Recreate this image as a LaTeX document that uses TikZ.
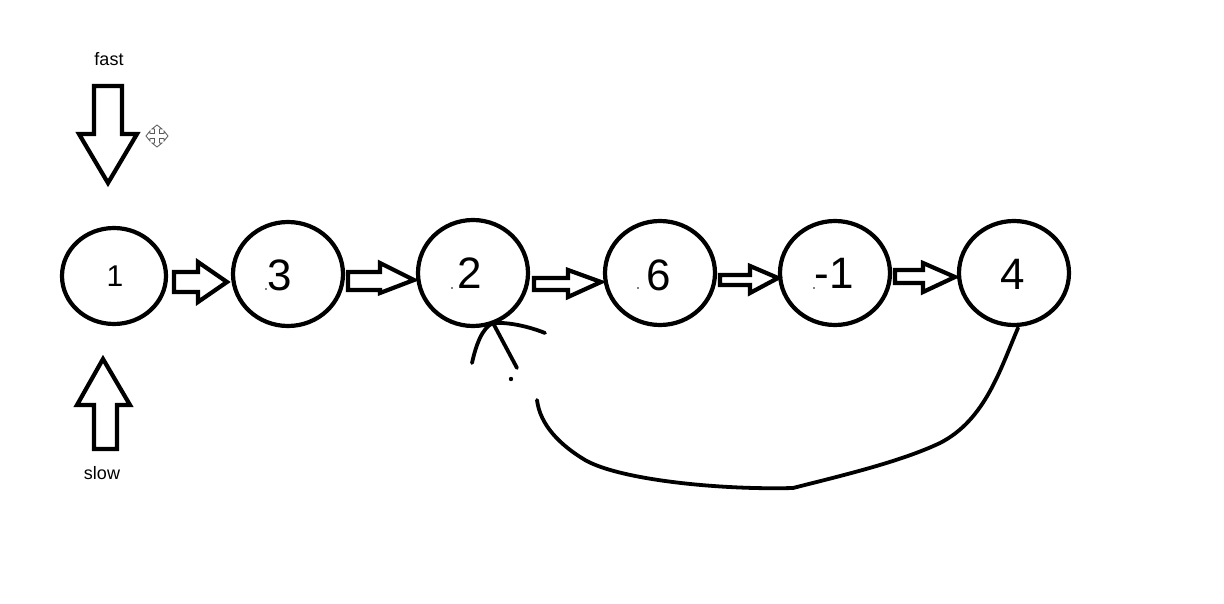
\documentclass[tikz,border=0pt]{standalone}
\usepackage{fontspec}
\setmainfont{Liberation Sans}
\begin{document}
\begin{tikzpicture}[x=1pt,y=-1pt,
  fat/.style={draw, line width=4.2pt, line join=miter, fill=white},
  hand/.style={line width=3.8pt, line cap=round},
  bignum/.style={font=\fontsize{44}{44}\selectfont},
  lbl/.style={font=\fontsize{18}{18}\selectfont}]
\useasboundingbox (0,0) rectangle (1224,604);
% list nodes as ellipses
\newcommand\lnode[5]{%
  \draw[line width=4.2pt] (#2,#3) ellipse [x radius=#4, y radius=#5];
  \coordinate (#1) at (#2,#3);}
\lnode{n1}{114}{276}{52}{48}
\lnode{n3}{288}{274}{55}{52}
\lnode{n2}{473}{273}{55}{53}
\lnode{n6}{660}{273}{55}{52}
\lnode{nm}{835}{273}{55}{52}
\lnode{n4}{1014}{273}{55}{52}
\node[font=\fontsize{30}{30}\selectfont] (t1) at (115,276) {1};
\node[bignum] (t3) at (280,275) {3};
\node[bignum] (t2) at (470,273) {2};
\node[bignum] (t6) at (659,275) {6};
\node[bignum] (tm) at (834,273) {-1};
\node[bignum] (t4) at (1013,274) {4};
% tiny dots
\foreach \p in {(266,289),(452,288),(638,288),(814,288)} \fill \p circle (0.9);
% fat right arrows
\newcommand\fatR[8]{%
  \draw[fat] (#1,#4) -- (#2,#4) -- (#2,#6) -- (#3,#8) -- (#2,#7) -- (#2,#5) -- (#1,#5) -- cycle;}
\fatR{174}{198}{227}{272}{292}{262}{302}{282}
\fatR{348}{380}{414}{272}{290}{263}{293}{280}
\fatR{534}{568}{601}{278}{290}{270}{297}{282}
\fatR{720}{750}{778}{275}{285}{266}{293}{278}
\fatR{895}{923}{955}{270}{283}{263}{292}{277}
% fast arrow (down)
\node[lbl] (fast) at (109,59) {fast};
\draw[fat] (94,86) -- (122,86) -- (122,134) -- (137,134) -- (108,183) -- (79,134) -- (94,134) -- cycle;
% slow arrow (up)
\node[lbl] (slow) at (102,473) {slow};
\draw[fat] (94,449) -- (117,449) -- (117,405) -- (130,405) -- (103,359) -- (77,405) -- (94,405) -- cycle;
% move cursor icon
\begin{scope}[gray!70!black, line width=0.8pt, fill=white]
  \draw (154.5,129) -- (154.5,133.5) -- (150,133.5) -- (150,131) -- (146,136) -- (150,141) -- (150,138.5) -- (154.5,138.5)
        -- (154.5,143) -- (152,143) -- (157,147) -- (162,143) -- (159.5,143) -- (159.5,138.5) -- (164,138.5) -- (164,141)
        -- (168,136) -- (164,131) -- (164,133.5) -- (159.5,133.5) -- (159.5,129) -- (162,129) -- (157,125) -- (152,129) -- cycle;
\end{scope}
% loop back curve
\coordinate (cend) at (537,400);
\draw[hand] (1018,328) .. controls (1000,370) and (985,420) .. (940,443)
  .. controls (900,462) and (840,476) .. (793,488)
  .. controls (720,490) and (620,480) .. (585,460)
  .. controls (560,445) and (540,425) .. (cend);
% hand-drawn arrowhead at node 2
\coordinate (tip) at (493,323);
\draw[hand] (tip) .. controls (482,328) and (476,345) .. (472,363);
\draw[hand] (tip) -- (517,368);
\draw[hand] (tip) .. controls (510,322) and (530,327) .. (545,333);
\fill (511,379) circle (2.2);
\end{tikzpicture}
\end{document}
